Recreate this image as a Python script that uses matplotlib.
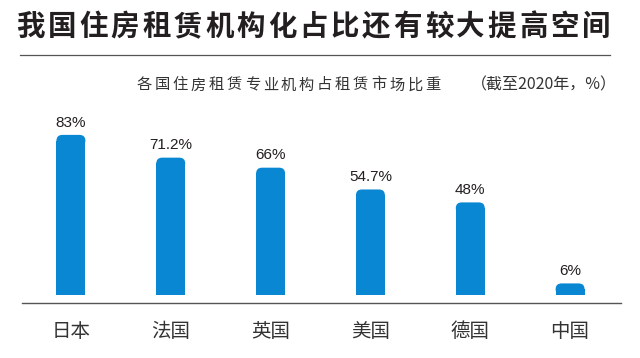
import numpy as np
import matplotlib.pyplot as plt
from matplotlib.patches import FancyBboxPatch
from matplotlib.lines import Line2D

plt.rcParams['font.family'] = ['Noto Sans CJK SC', 'DejaVu Sans']

countries = ['日本', '法国', '英国', '美国', '德国', '中国']
shares = [83, 71.2, 66, 54.7, 48, 6]
value_labels = ['83%', '71.2%', '66%', '54.7%', '48%', '6%']

title = '我国住房租赁机构化占比还有较大提高空间'
subtitle = '各国住房租赁专业机构占租赁市场比重'
subtitle_note = '（截至2020年，%）'

W, H = 640, 358
bar_color = '#0a87d2'


def spaced_text(fig, x0, y, s, step, **kw):
    # place characters one by one to mimic the wide letter spacing
    for i, ch in enumerate(s):
        fig.text((x0 + step * (i + 0.5)) / W, 1 - y / H, ch,
                 ha='center', va='center', **kw)


fig = plt.figure(figsize=(6.4, 3.58), dpi=100)

# title + rule
spaced_text(fig, 15, 27, title, 597 / len(title), fontsize=20.5, fontweight='bold', color='#231f20')
fig.add_artist(Line2D([20 / W, 610 / W], [1 - 54.5 / H] * 2, color='#555555', lw=0.9))

# subtitle
spaced_text(fig, 135, 85, subtitle, 18.05, fontsize=11, color='#333333')
fig.text(617 / W, 1 - 85 / H, subtitle_note, ha='right', va='center', fontsize=11.5, color='#333333')

ax = fig.add_axes([22 / W, (H - 302.7) / H, 599 / W, (302.7 - 110) / H])
x = np.arange(len(countries))
w = 0.29
rx = 0.06                     # corner radius in x data units
ry = 3.0                      # corner radius in y data units

ax.bar(x, np.array(shares) - ry, width=w, color=bar_color, linewidth=0)
for xi, v, lab in zip(x, shares, value_labels):
    ax.add_patch(FancyBboxPatch((xi - w / 2, v - 2 * ry), w, 2 * ry,
                                boxstyle=f'round,pad=0,rounding_size={rx}',
                                mutation_aspect=ry / rx,
                                facecolor=bar_color, edgecolor='none'))
    ax.annotate(lab, (xi, v), xytext=(0, 6), textcoords='offset points',
                ha='center', va='baseline', fontsize=11, color='#231f20',
                family=['Liberation Sans', 'DejaVu Sans'])

ax.set_xlim(-0.49, 5.51)
ax.set_ylim(-4, 95.9)
ax.set_xticks(x)
ax.set_xticklabels(countries, fontsize=14, color='#333333')
ax.tick_params(axis='x', length=0, pad=13)
ax.set_yticks([])
for s in ['top', 'left', 'right']:
    ax.spines[s].set_visible(False)
ax.spines['bottom'].set_color('#555555')
ax.spines['bottom'].set_linewidth(1)

fig.savefig('out.png', dpi=100)
